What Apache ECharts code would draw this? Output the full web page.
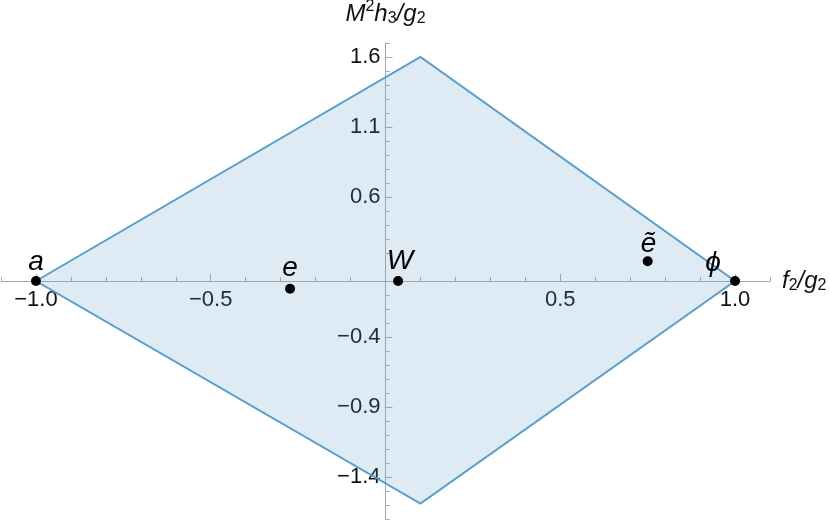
<!DOCTYPE html>
<html>
<head>
<meta charset="utf-8">
<script src="https://cdn.jsdelivr.net/npm/echarts@6/dist/echarts.min.js"></script>
<style>
  html, body { margin: 0; padding: 0; background: #fff; }
  #chart { width: 830px; height: 520px; }
</style>
</head>
<body>
<div id="chart"></div>
<script>
// diamond region (vertices, in order)
const regionX = [-1.0, 0.1, 1.0, 0.1];
const regionY = [0.0, 1.6, 0.0, -1.59];

// labelled points
const pointNames = ['a', 'e', 'W', 'ẽ', 'ϕ'];
const pointX = [-1.0, -0.273, 0.036, 0.75, 1.0];
const pointY = [0.0, -0.055, 0.0, 0.141, 0.0];

// tick labels
const xLabelValues = [-1.0, -0.5, 0.5, 1.0];
const yLabelValues = [-1.4, -0.9, -0.4, 0.6, 1.1, 1.6];
const xMajorTicks = [-1.0, -0.5, 0.5, 1.0];
const yMajorTicks = [-1.4, -0.9, -0.4, 0.6, 1.1, 1.6];

// label nudges per point (pixels)
const labelNudge = {
  'a': [0, 5], 'e': [0, 4], 'W': [2, 4], 'ẽ': [1, 7], 'ϕ': [-22, 6]
};

const FONT = '"Liberation Sans", Arial, sans-serif';
const LINE = '#5b9dcb';
const X_MIN = -1.1, X_MAX = 1.1, Y_MIN = -1.7, Y_MAX = 1.7;

function minorTicks(from, to, skip) {
  const out = [];
  for (let i = Math.round(from * 10); i <= Math.round(to * 10); i++) {
    if (i !== 0 && skip.indexOf(i) < 0) out.push(i / 10);
  }
  return out;
}

// only print the listed tick labels
function labelFor(list) {
  return function (v) {
    v = Number(v);
    for (const t of list) {
      if (Math.abs(t - v) < 1e-6) return (t < 0 ? '\u2212' : '') + Math.abs(t).toFixed(1);
    }
    return '';
  };
}

const chart = echarts.init(document.getElementById('chart'));

const axisLineStyle = { color: '#a8a8a8', width: 1 };
const nameRich = {
  i: { fontSize: 24, fontStyle: 'italic', fontFamily: FONT, color: '#111' },
  sup: { fontSize: 16, fontFamily: FONT, color: '#111', padding: [0, 0, 14, 0] },
  sub: { fontSize: 16, fontFamily: FONT, color: '#111', padding: [10, 0, 0, 0] }
};

const option = {
  animation: false,
  backgroundColor: '#fff',
  grid: { left: 1, right: 60, top: 43, bottom: 1, containLabel: false, outerBoundsMode: 'none' },
  xAxis: [{
    type: 'value', min: X_MIN, max: X_MAX, interval: 0.1, position: 'bottom',
    axisLine: { show: true, onZero: false, lineStyle: axisLineStyle },
    axisTick: { show: true, inside: true, length: 4, customValues: minorTicks(X_MIN, X_MAX, []), lineStyle: axisLineStyle },
    axisLabel: {
      show: true, formatter: labelFor(xLabelValues), margin: 8,
      color: '#111', fontSize: 22, fontFamily: FONT
    },
    splitLine: { show: false },
    name: '{i|f}{sub|2}{i|/g}{sub|2}',
    nameLocation: 'end', nameGap: 12,
    nameTextStyle: { rich: nameRich }
  }, {
    type: 'value', min: X_MIN, max: X_MAX, position: 'bottom',
    axisLine: { show: false, onZero: false },
    axisTick: { show: true, inside: true, length: 7, customValues: xMajorTicks, lineStyle: axisLineStyle },
    axisLabel: { show: false },
    splitLine: { show: false }
  }],
  yAxis: [{
    type: 'value', min: Y_MIN, max: Y_MAX, interval: 0.1, position: 'left',
    axisLine: { show: true, onZero: false, lineStyle: axisLineStyle },
    axisTick: { show: true, inside: true, length: 4, customValues: minorTicks(Y_MIN, Y_MAX, [1]), lineStyle: axisLineStyle },
    axisLabel: {
      show: true, formatter: labelFor(yLabelValues), margin: 5,
      color: '#111', fontSize: 22, fontFamily: FONT
    },
    splitLine: { show: false },
    name: '{i|M}{sup|2}{i|h}{sub|3}{i|/g}{sub|2}',
    nameLocation: 'end', nameGap: 14,
    nameTextStyle: { align: 'center', rich: nameRich }
  }, {
    type: 'value', min: Y_MIN, max: Y_MAX, position: 'left',
    axisLine: { show: false, onZero: false },
    axisTick: { show: true, inside: true, length: 7, customValues: yMajorTicks, lineStyle: axisLineStyle },
    axisLabel: { show: false },
    splitLine: { show: false }
  }],
  series: [{
    type: 'custom',
    xAxisIndex: 0, yAxisIndex: 0,
    data: regionX.map((x, i) => [x, regionY[i]]),
    renderItem: function (params, api) {
      if (params.dataIndex !== 0) return;
      const pts = regionX.map((x, i) => api.coord([x, regionY[i]]));
      return {
        type: 'polygon',
        shape: { points: pts },
        style: { fill: 'rgba(91,157,203,0.2)', stroke: LINE, lineWidth: 2, lineJoin: 'miter' }
      };
    },
    z: 2
  }, {
    type: 'scatter',
    xAxisIndex: 0, yAxisIndex: 0,
    symbolSize: 10,
    itemStyle: { color: '#000', opacity: 1 },
    data: pointNames.map((n, i) => ({
      name: n, value: [pointX[i], pointY[i]],
      label: { offset: labelNudge[n] }
    })),
    label: {
      show: true, position: 'top', distance: 5,
      formatter: p => p.name,
      fontSize: 28, fontStyle: 'italic', fontFamily: FONT, color: '#000', opacity: 1
    },
    emphasis: { disabled: true },
    z: 5
  }]
};

chart.setOption(option);

// move the axes so they cross at the origin (labels included)
const finder = { xAxisIndex: 0, yAxisIndex: 0 };
const origin = chart.convertToPixel(finder, [0, 0]);
const corner = chart.convertToPixel(finder, [X_MIN, Y_MIN]);
const xOff = -(corner[1] - origin[1]);
const yOff = -(origin[0] - corner[0]);
chart.setOption({
  xAxis: [{ offset: xOff }, { offset: xOff }],
  yAxis: [{ offset: yOff }, { offset: yOff }]
});
</script>
</body>
</html>
